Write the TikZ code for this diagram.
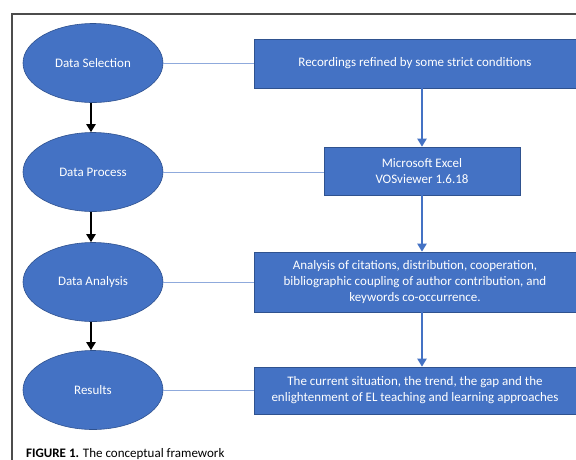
\documentclass[tikz,border=0pt]{standalone}
\usepackage{fontspec}
\setmainfont{Carlito}
\usetikzlibrary{shapes.geometric, arrows.meta}

\definecolor{officeblue}{HTML}{4472C4}
\definecolor{edgeblue}{HTML}{2F528F}
\definecolor{linkblue}{HTML}{8FAADC}

\tikzset{
  stage/.style={ellipse, fill=officeblue, draw=edgeblue, line width=0.6pt,
    minimum width=140pt, minimum height=79pt, inner sep=0pt,
    text=white, font=\fontsize{13}{16}\selectfont},
  stepbox/.style={rectangle, fill=officeblue, draw=edgeblue, line width=0.6pt,
    inner sep=0pt, text=white, align=center, font=\fontsize{13}{16}\selectfont},
  link/.style={linkblue, line width=1pt},
  flow/.style={-{Triangle[length=8pt, width=9pt]}, line width=2pt},
  blueflow/.style={flow, officeblue}
}

\begin{document}
\begin{tikzpicture}[x=1pt, y=-1pt]
\useasboundingbox (0,0) rectangle (576,459);

% Frame
\draw[gray!60!black, line width=1.5pt] (12,14) rectangle (620,500);

% Stages
\node[stage] (sel) at (93,63)  {Data Selection};
\node[stage] (pro) at (93,172) {Data Process};
\node[stage] (ana) at (93,282) {Data Analysis};
\node[stage] (res) at (93,390) {Results};

% Boxes
\node[stepbox, minimum width=322pt, minimum height=49pt] (rec) at (415,63.5)
  {Recordings refined by some strict conditions};
\node[stepbox, minimum width=196pt, minimum height=48pt] (vos) at (422,171)
  {Microsoft Excel\\VOSviewer 1.6.18};
\node[stepbox, minimum width=322pt, minimum height=60pt] (cit) at (415,282)
  {Analysis of citations, distribution, cooperation,\\bibliographic coupling of author contribution, and\\keywords co-occurrence.};
\node[stepbox, minimum width=322pt, minimum height=47pt] (gap) at (415,390.5)
  {The current situation, the trend, the gap and the\\enlightenment of EL teaching and learning approaches};

% Links
\draw[link] (sel.east) -- (sel.east -| rec.west);
\draw[link] (pro.east) -- (pro.east -| vos.west);
\draw[link] (ana.east) -- (ana.east -| cit.west);
\draw[link] (res.east) -- (res.east -| gap.west);

% Arrows
\draw[flow] ([xshift=-2pt]sel.south) -- ([xshift=-2pt]pro.north);
\draw[flow] ([xshift=-2pt]pro.south) -- ([xshift=-2pt]ana.north);
\draw[flow] ([xshift=-2pt]ana.south) -- ([xshift=-2pt]res.north);
\draw[blueflow] (rec.south -| vos.north) -- (vos.north);
\draw[blueflow] (vos.south) -- (cit.north -| vos.south);
\draw[blueflow] (cit.south -| vos.south) -- (gap.north -| vos.south);

% Caption
\node[anchor=base west, inner sep=0pt, font=\fontsize{13}{15}\selectfont] (cap) at (26,457)
  {\textbf{FIGURE 1.} The conceptual framework};
\end{tikzpicture}
\end{document}
